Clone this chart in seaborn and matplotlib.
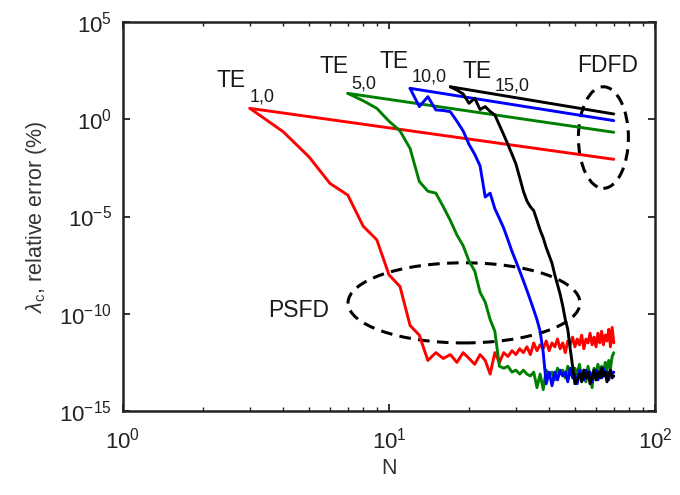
import numpy as np
import pandas as pd
import matplotlib
matplotlib.use("Agg")
import matplotlib.pyplot as plt
from matplotlib.patches import Ellipse
from matplotlib.ticker import LogLocator, FixedLocator, NullFormatter
import seaborn as sns

# ---------------- data ----------------
# PSFD: log10 of relative error at integer N = start..70
red_N = list(range(3, 71))
red_log10_err = [0.56, -0.64, -1.93, -3.3, -3.9, -5.5, -6.2, -8.0, -8.6, -10.6,
                 -11.1, -12.4, -12.0, -12.3, -12.1, -12.5, -12.0, -12.3, -12.6, -12.1,
                 -12.4, -13.1, -12.0, -12.5, -12.0, -12.2, -11.9, -12.1, -11.8, -12.0,
                 -11.7, -12.1, -11.5, -11.9, -11.6, -11.8, -11.4, -11.9, -11.5, -11.7,
                 -11.3, -11.8, -11.5, -12.0, -11.4, -11.6, -11.2, -11.7, -11.3, -11.6,
                 -11.1, -11.8, -11.3, -11.5, -11.0, -11.6, -11.2, -11.7, -11.0, -11.5,
                 -10.9, -11.6, -11.1, -11.4, -10.8, -11.7, -10.7, -11.5]

green_N = list(range(7, 71))
green_log10_err = [1.33, 0.95, 0.56, -0.1, -0.6, -1.5, -3.2, -3.7, -3.8, -4.5,
                   -5.2, -5.95, -6.5, -7.3, -7.8, -8.9, -9.4, -10.3, -10.9, -12.7,
                   -12.8, -12.7, -13.0, -12.9, -13.1, -12.9, -13.1, -13.2, -13.0, -13.8,
                   -13.1, -13.9, -12.9, -13.2, -13.0, -13.4, -12.8, -13.1, -12.9, -13.3,
                   -12.7, -13.0, -13.2, -12.8, -13.1, -12.6, -13.3, -12.9, -13.5, -12.7,
                   -13.2, -13.8, -12.8, -13.1, -12.6, -13.0, -12.7, -13.2, -12.5, -12.9,
                   -12.4, -12.8, -12.2, -12.0]

blue_N = list(range(12, 71))
blue_log10_err = [1.59, 0.65, 1.16, 0.48, 0.45, 0.39, -0.1, -0.6, -1.3, -1.8,
                  -2.4, -4.0, -3.8, -4.6, -5.1, -5.6, -6.2, -6.8, -7.3, -7.8,
                  -8.3, -8.8, -9.3, -9.8, -10.3, -10.9, -12.0, -13.6, -13.0, -13.7,
                  -13.0, -13.4, -12.9, -13.2, -13.0, -13.5, -12.8, -13.3, -13.1, -13.6,
                  -12.9, -13.2, -13.4, -12.9, -13.3, -13.0, -13.5, -13.1, -12.9, -13.4,
                  -13.0, -13.3, -12.8, -13.2, -13.0, -13.4, -12.9, -13.1, -13.0]

black_N = list(range(17, 71))
black_log10_err = [1.67, 1.5, 1.3, 0.82, 1.08, 0.5, 0.65, 0.4, 0.22, -0.3,
                   -0.8, -1.3, -1.8, -2.3, -3.0, -3.7, -4.2, -4.5, -4.7, -5.2,
                   -5.7, -6.1, -6.6, -7.0, -7.4, -8.0, -8.5, -9.0, -9.6, -10.3,
                   -10.8, -11.8, -12.7, -13.6, -13.4, -13.1, -13.5, -12.9, -13.3, -13.0,
                   -13.6, -13.2, -12.9, -13.4, -13.0, -13.3, -12.8, -13.2, -13.0, -13.5,
                   -13.1, -12.9, -13.3, -13.2]

# FDFD: straight lines (log-log) from first N to N = 70
fdfd_N = {"red": [3, 70], "green": [7, 70], "blue": [12, 70], "black": [17, 70]}
fdfd_log10_err = {"red": [0.56, -2.06], "green": [1.33, -0.67],
                  "blue": [1.59, -0.07], "black": [1.67, 0.27]}

mode_subscripts = ["1,0", "5,0", "10,0", "15,0"]
series_colors = {"red": "#ff0000", "green": "#008000", "blue": "#0000ff", "black": "#000000"}

psfd = {"red": (red_N, red_log10_err), "green": (green_N, green_log10_err),
        "blue": (blue_N, blue_log10_err), "black": (black_N, black_log10_err)}

# ---------------- style ----------------
sns.set_theme(style="ticks")
plt.rcParams["font.family"] = ["Liberation Sans", "DejaVu Sans"]
plt.rcParams["mathtext.fontset"] = "custom"
plt.rcParams["mathtext.rm"] = "Liberation Sans"
plt.rcParams["mathtext.it"] = "Liberation Sans:italic"
plt.rcParams["mathtext.bf"] = "Liberation Sans:bold"

fig = plt.figure(figsize=(6.8, 4.95), dpi=100)
ax = fig.add_axes([123 / 680, 1 - 411 / 495, 532 / 680, 389 / 495])

LW = 2.1
for key in ["red", "green", "blue", "black"]:
    n, e = psfd[key]
    df = pd.DataFrame({"N": n, "err": 10.0 ** np.array(e)})
    sns.lineplot(data=df, x="N", y="err", ax=ax, color=series_colors[key],
                 linewidth=LW, estimator=None, sort=False)
    dff = pd.DataFrame({"N": fdfd_N[key], "err": 10.0 ** np.array(fdfd_log10_err[key])})
    sns.lineplot(data=dff, x="N", y="err", ax=ax, color=series_colors[key],
                 linewidth=LW, estimator=None, sort=False)

ax.set_xscale("log")
ax.set_yscale("log")
ax.set_xlim(1, 100)
ax.set_ylim(1e-15, 1e5)

ax.yaxis.set_major_locator(FixedLocator([1e-15, 1e-10, 1e-5, 1e0, 1e5]))
ax.yaxis.set_minor_locator(FixedLocator([]))
ax.set_yticklabels(["$10^{-15}$", "$10^{-10}$", "$10^{-5}$", "$10^{0}$", "$10^{5}$"])
ax.xaxis.set_major_locator(FixedLocator([1, 10, 100]))
ax.set_xticklabels(["$10^{0}$", "$10^{1}$", "$10^{2}$"])
ax.xaxis.set_minor_locator(LogLocator(base=10, subs=np.arange(2, 10)))
ax.xaxis.set_minor_formatter(NullFormatter())

ax.tick_params(which="both", direction="in", top=True, right=True, colors="#222222",
               labelcolor="#222222")
ax.tick_params(which="major", length=5, width=1.3, labelsize=16, pad=8)
ax.tick_params(axis="x", which="major", pad=12)
ax.tick_params(which="minor", length=3, width=1.0)
for s in ax.spines.values():
    s.set_linewidth(1.8)
    s.set_color("#222222")

ax.set_xlabel("N", fontsize=15.5, color="#333333", labelpad=3)
ax.set_ylabel(r"$\lambda_{\mathrm{c}}$, relative error (%)", fontsize=15.5,
              color="#333333", labelpad=7)

# ---------------- annotations ----------------
tc = "#1a1a1a"
def te(x_te, y_te, x_sub, y_sub, sub):
    ax.text(x_te, y_te, "TE", fontsize=16.5, color=tc, ha="left", va="baseline")
    ax.text(x_sub, y_sub, sub, fontsize=13, color=tc, ha="left", va="baseline")

te(2.25, 10 ** 1.67, 3.0, 10 ** 0.90, mode_subscripts[0])
te(5.50, 10 ** 2.36, 7.24, 10 ** 1.59, mode_subscripts[1])
te(9.25, 10 ** 2.62, 12.17, 10 ** 1.93, mode_subscripts[2])
te(18.97, 10 ** 2.105, 25.03, 10 ** 1.50, mode_subscripts[3])
ax.text(50.8, 10 ** 2.445, "FDFD", fontsize=16.5, color=tc, ha="left", va="baseline")
ax.text(3.52, 10 ** -10.15, "PSFD", fontsize=16.5, color=tc, ha="left", va="baseline")

ax.add_patch(Ellipse((0.903, 0.703), 0.094, 0.261, transform=ax.transAxes,
                     fill=False, edgecolor="black", linewidth=2.2,
                     linestyle=(0, (3.8, 2.4))))
ax.add_patch(Ellipse((0.641, 0.278), 0.436, 0.206, transform=ax.transAxes,
                     fill=False, edgecolor="black", linewidth=2.2,
                     linestyle=(0, (3.8, 2.4))))

fig.savefig("out.png", dpi=100)
